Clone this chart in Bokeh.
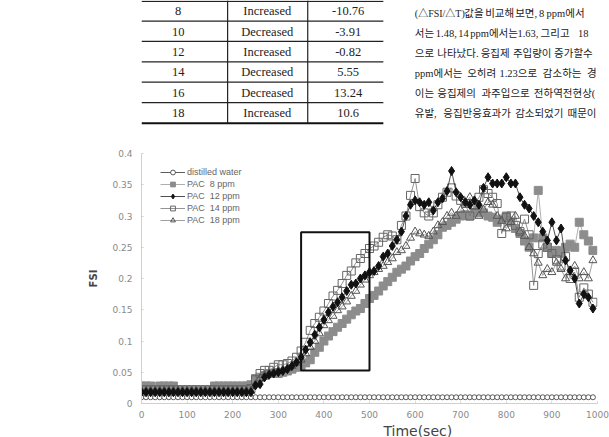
from bokeh.plotting import figure
from bokeh.layouts import column
from bokeh.models import Range1d, Legend, LegendItem, FixedTicker, BoxAnnotation
from bokeh.embed import file_html
from bokeh.resources import INLINE
from bokeh.core.properties import value

# ---------------- data ----------------
table_ppm = ["8", "10", "12", "14", "16", "18"]
table_change = ["Increased", "Decreased", "Increased", "Decreased", "Decreased", "Increased"]
table_values = ["-10.76", "-3.91", "-0.82", "5.55", "13.24", "10.6"]

korean_words = [
    ["(△FSI/△T)", "값을", "비교해", "보면,", "8", "ppm에서"],
    ["서는", "1.48,", "14", "ppm에서는", "1.63,", "그리고", "18"],
    ["으로", "나타났다.", "응집제", "주입량이", "증가할수"],
    ["ppm에서는", "오히려", "1.23으로", "감소하는", "경"],
    ["이는", "응집제의", "과주입으로", "전하역전현상("],
    ["유발,", "응집반응효과가", "감소되었기", "때문이"],
]

time_sec = list(range(0, 1000, 10))

distilled = [
    0.01, 0.01, 0.01, 0.01, 0.01, 0.01, 0.01, 0.01, 0.01, 0.01,
    0.01, 0.01, 0.01, 0.01, 0.01, 0.01, 0.01, 0.01, 0.01, 0.01,
    0.01, 0.01, 0.01, 0.01, 0.01, 0.01, 0.01, 0.01, 0.01, 0.01,
    0.01, 0.01, 0.01, 0.01, 0.01, 0.01, 0.01, 0.01, 0.01, 0.01,
    0.01, 0.01, 0.01, 0.01, 0.01, 0.01, 0.01, 0.01, 0.01, 0.01,
    0.01, 0.01, 0.01, 0.01, 0.01, 0.01, 0.01, 0.01, 0.01, 0.01,
    0.01, 0.01, 0.01, 0.01, 0.01, 0.01, 0.01, 0.01, 0.01, 0.01,
    0.01, 0.01, 0.01, 0.01, 0.01, 0.01, 0.01, 0.01, 0.01, 0.01,
    0.01, 0.01, 0.01, 0.01, 0.01, 0.01, 0.01, 0.01, 0.01, 0.01,
    0.01, 0.01, 0.01, 0.01, 0.01, 0.01, 0.01, 0.01, 0.01, 0.01,
]

pac8 = [
    0.028, 0.028, 0.028, 0.020, 0.028, 0.028, 0.028, 0.028, 0.020, 0.020,
    0.020, 0.020, 0.020, 0.020, 0.020, 0.020, 0.028, 0.028, 0.028, 0.028,
    0.028, 0.028, 0.028, 0.028, 0.030, 0.040, 0.042, 0.045, 0.048, 0.048,
    0.048, 0.050, 0.052, 0.055, 0.058, 0.060, 0.065, 0.070, 0.082, 0.090,
    0.100, 0.108, 0.115, 0.122, 0.128, 0.135, 0.142, 0.148, 0.152, 0.160,
    0.168, 0.173, 0.180, 0.188, 0.195, 0.202, 0.210, 0.215, 0.220, 0.228,
    0.235, 0.240, 0.248, 0.255, 0.262, 0.270, 0.282, 0.285, 0.290, 0.295,
    0.300, 0.302, 0.300, 0.305, 0.310, 0.305, 0.300, 0.298, 0.290, 0.295,
    0.300, 0.290, 0.280, 0.272, 0.260, 0.250, 0.265, 0.341, 0.265, 0.250,
    0.240, 0.245, 0.240, 0.250, 0.255, 0.250, 0.290, 0.270, 0.260, 0.245,
]

pac12 = [
    0.018, 0.018, 0.018, 0.018, 0.018, 0.018, 0.018, 0.018, 0.018, 0.018,
    0.018, 0.018, 0.018, 0.018, 0.018, 0.018, 0.018, 0.018, 0.018, 0.018,
    0.018, 0.018, 0.018, 0.018, 0.018, 0.029, 0.031, 0.042, 0.046, 0.048,
    0.050, 0.052, 0.055, 0.060, 0.066, 0.074, 0.086, 0.098, 0.110, 0.122,
    0.134, 0.146, 0.155, 0.162, 0.170, 0.180, 0.190, 0.192, 0.200, 0.205,
    0.210, 0.212, 0.220, 0.235, 0.240, 0.252, 0.262, 0.275, 0.300, 0.318,
    0.325, 0.322, 0.318, 0.322, 0.309, 0.322, 0.328, 0.340, 0.372, 0.338,
    0.330, 0.322, 0.318, 0.325, 0.318, 0.345, 0.362, 0.352, 0.352, 0.352,
    0.362, 0.352, 0.352, 0.330, 0.318, 0.312, 0.300, 0.290, 0.275, 0.261,
    0.290, 0.261, 0.280, 0.229, 0.213, 0.200, 0.160, 0.175, 0.170, 0.152,
]

pac14 = [
    0.022, 0.022, 0.022, 0.022, 0.022, 0.022, 0.022, 0.022, 0.022, 0.022,
    0.022, 0.022, 0.022, 0.022, 0.022, 0.022, 0.022, 0.022, 0.022, 0.022,
    0.022, 0.022, 0.022, 0.022, 0.024, 0.038, 0.048, 0.053, 0.053, 0.058,
    0.062, 0.062, 0.064, 0.068, 0.074, 0.084, 0.098, 0.117, 0.128, 0.138,
    0.148, 0.160, 0.172, 0.181, 0.192, 0.205, 0.212, 0.225, 0.232, 0.240,
    0.248, 0.252, 0.258, 0.266, 0.270, 0.268, 0.262, 0.285, 0.300, 0.333,
    0.360, 0.315, 0.305, 0.300, 0.305, 0.318, 0.330, 0.338, 0.345, 0.332,
    0.325, 0.320, 0.300, 0.318, 0.330, 0.342, 0.336, 0.330, 0.320, 0.272,
    0.298, 0.300, 0.285, 0.275, 0.295, 0.270, 0.189, 0.240, 0.255, 0.250,
    0.240, 0.230, 0.220, 0.235, 0.200, 0.210, 0.170, 0.185, 0.175, 0.162,
]

pac18 = [
    0.020, 0.020, 0.020, 0.020, 0.020, 0.020, 0.020, 0.020, 0.020, 0.020,
    0.020, 0.020, 0.020, 0.020, 0.020, 0.020, 0.020, 0.020, 0.020, 0.020,
    0.020, 0.020, 0.020, 0.020, 0.020, 0.030, 0.040, 0.045, 0.048, 0.050,
    0.052, 0.054, 0.056, 0.060, 0.065, 0.070, 0.080, 0.090, 0.100, 0.112,
    0.125, 0.133, 0.140, 0.149, 0.155, 0.163, 0.172, 0.180, 0.190, 0.198,
    0.205, 0.210, 0.215, 0.220, 0.226, 0.232, 0.242, 0.245, 0.252, 0.265,
    0.275, 0.272, 0.270, 0.268, 0.275, 0.285, 0.290, 0.300, 0.305, 0.300,
    0.310, 0.320, 0.330, 0.315, 0.300, 0.310, 0.322, 0.318, 0.300, 0.292,
    0.280, 0.290, 0.300, 0.275, 0.268, 0.250, 0.240, 0.225, 0.205, 0.215,
    0.210, 0.225, 0.215, 0.200, 0.210, 0.220, 0.200, 0.210, 0.200, 0.229,
]

series_names = ["distilled water", "PAC  8 ppm", "PAC  12 ppm", "PAC  14 ppm", "PAC  18 ppm"]

tick_x = [0, 100, 200, 300, 400, 500, 600, 700, 800, 900, 1000]
tick_x_labels = ["0", "100", "200", "300", "400", "500", "600", "700", "800", "900", "1000"]
tick_y = [0, 0.05, 0.1, 0.15, 0.2, 0.25, 0.3, 0.35, 0.4]
tick_y_labels = ["0", "0.05", "0.1", "0.15", "0.2", "0.25", "0.3", "0.35", "0.4"]
x_title = "Time(sec)"
y_title = "FSI"

box_time = [350, 500]
box_fsi = [0.053, 0.274]

# ---------------- layout constants ----------------
W = 609
TOP_H = 125
CHART_H = 298
LABEL_H = 437 - TOP_H - CHART_H

# word start positions of the Korean paragraph (page pixels)
word_x = [
    [365, 431, 459, 499, 531, 541],
    [365, 393, 423, 439, 502, 533, 583],
    [365, 395, 453, 496, 551],
    [365, 435, 478, 536, 595],
    [365, 395, 454, 524],
    [365, 403, 499, 569],
]

# ---------------- top: table + text ----------------
top = figure(width=W, height=TOP_H, x_range=Range1d(0, W), y_range=Range1d(TOP_H, 0),
             x_axis_type=None, y_axis_type=None, output_backend="svg",
             toolbar_location=None, min_border=0, outline_line_color=None)
top.grid.visible = False

row_lines = [0.8, 20.7, 40.9, 61.3, 81.7, 102.2]
top.segment(x0=0, x1=323, y0=row_lines, y1=row_lines, line_color="#222222", line_width=1.2)
top.segment(x0=[0], x1=[323], y0=[122.8], y1=[122.8], line_color="#111111", line_width=2)
top.segment(x0=[115, 222], x1=[115, 222], y0=[0, 0], y1=[122.8, 122.8],
            line_color="#222222", line_width=1.2)

row_centers = [10.8 + 20.35 * i for i in range(len(table_ppm))]
tfont = value("Liberation Serif")
for cx, col in ((49, table_ppm), (168, table_change), (276, table_values)):
    top.text(x=[cx] * len(col), y=row_centers, text=col, text_align="center",
             text_baseline="middle", text_font=tfont, text_font_size="12.5px",
             text_color="#222222")

kx, ky, kt, ks = [], [], [], []
for i, words in enumerate(korean_words):
    for j, w in enumerate(words):
        kx.append(word_x[i][j])
        ky.append(13 + 20 * i)
        kt.append(w)
        ks.append("10px" if "△" in w else "10.5px")
top.text(x=kx, y=ky, text=kt, text_align="left", text_baseline="middle",
         text_font=value("'Liberation Serif', 'Noto Sans CJK KR'"),
         text_font_size=ks, text_color="#222222")

# ---------------- chart ----------------
p = figure(width=W, height=CHART_H, x_range=Range1d(0, 1000), y_range=Range1d(0, 0.4),
           output_backend="svg", toolbar_location=None,
           min_border_left=141, min_border_right=12, min_border_top=28, min_border_bottom=20,
           outline_line_color=None, background_fill_color="white")
p.grid.visible = False

for ax in (p.xaxis[0], p.yaxis[0]):
    ax.axis_line_color = "#d0d0d0"
    ax.major_tick_line_color = "#d0d0d0"
    ax.major_tick_in = 2
    ax.major_tick_out = 0
    ax.minor_tick_line_color = None
    ax.major_label_text_color = "#8a8a8a"
    ax.major_label_text_font = "DejaVu Sans"
    ax.major_label_text_font_size = "9px"

p.xaxis.ticker = FixedTicker(ticks=tick_x)
p.xaxis.major_label_overrides = dict(zip(tick_x, tick_x_labels))
p.yaxis.ticker = FixedTicker(ticks=tick_y)
p.yaxis.major_label_overrides = dict(zip(tick_y, tick_y_labels))
p.xaxis.major_label_standoff = 7
p.yaxis.major_label_standoff = 9
p.yaxis.axis_label = y_title
p.yaxis.axis_label_text_font = "DejaVu Sans"
p.yaxis.axis_label_text_font_size = "10px"
p.yaxis.axis_label_text_font_style = "bold"
p.yaxis.axis_label_text_color = "#444444"
p.yaxis.axis_label_standoff = 10

items = []
l0 = p.line(time_sec, distilled, line_color="#333333", line_width=0.8)
s0 = p.scatter(time_sec, distilled, marker="circle", size=5, line_color="#333333",
               fill_color="white", line_width=0.8)
items.append(LegendItem(label=series_names[0], renderers=[l0, s0]))

l1 = p.line(time_sec, pac8, line_color="#9a9a9a", line_width=0.8)
s1 = p.scatter(time_sec, pac8, marker="square", size=8, line_color="#8c8c8c",
               fill_color="#8c8c8c")
items.append(LegendItem(label=series_names[1], renderers=[l1, s1]))

l3 = p.line(time_sec, pac14, line_color="#777777", line_width=0.8)
s3 = p.scatter(time_sec, pac14, marker="square", size=8, line_color="#666666",
               fill_alpha=0, line_width=1)

l4 = p.line(time_sec, pac18, line_color="#888888", line_width=0.8)
s4 = p.scatter(time_sec, pac18, marker="triangle", size=8, line_color="#555555",
               fill_alpha=0, line_width=1)

l2 = p.line(time_sec, pac12, line_color="#222222", line_width=0.8)
s2 = p.scatter(time_sec, pac12, marker="diamond", size=9, line_color="#111111",
               fill_color="#111111")
items.append(LegendItem(label=series_names[2], renderers=[l2, s2]))
items.append(LegendItem(label=series_names[3], renderers=[l3, s3]))
items.append(LegendItem(label=series_names[4], renderers=[l4, s4]))

box = BoxAnnotation(left=box_time[0], right=box_time[1], bottom=box_fsi[0], top=box_fsi[1],
                    fill_alpha=0, line_color="#111111", line_alpha=1, line_width=2)
p.add_layout(box)

legend = Legend(items=items, location=(19, 177), orientation="vertical",
                label_text_font="Liberation Sans", label_text_font_size="9px",
                label_text_color="#666666", label_height=12, glyph_height=12,
                glyph_width=25, label_standoff=2, spacing=0, padding=0, margin=0,
                border_line_color=None, background_fill_alpha=0)
p.add_layout(legend)

# ---------------- x axis title strip ----------------
lab = figure(width=W, height=LABEL_H, x_range=Range1d(0, W), y_range=Range1d(LABEL_H, 0),
             x_axis_type=None, y_axis_type=None, output_backend="svg",
             toolbar_location=None, min_border=0, outline_line_color=None)
lab.grid.visible = False
lab.text(x=[369], y=[LABEL_H / 2], text=[x_title], text_align="center", text_baseline="middle",
         text_font=value("DejaVu Sans"), text_font_size="14px", text_color="#444444")

layout = column(top, p, lab, spacing=0)
open("out.html", "w").write(file_html(layout, INLINE))
